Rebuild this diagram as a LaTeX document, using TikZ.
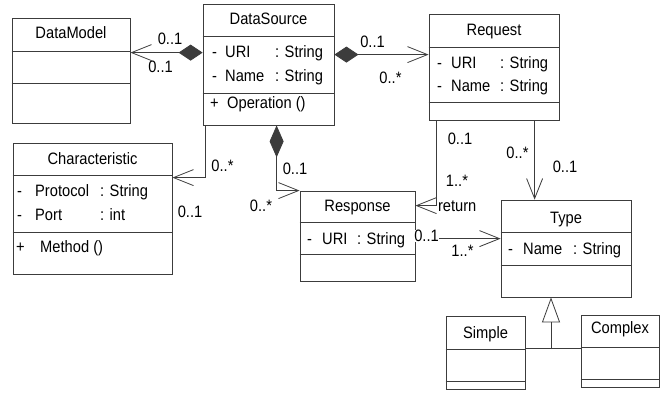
\documentclass[tikz,border=0pt]{standalone}
\usepackage{fontspec}
\setmainfont{Liberation Sans}[FakeStretch=0.89]
\usepackage{tikz}
\usetikzlibrary{arrows.meta, positioning, calc}

\definecolor{umlline}{RGB}{60, 60, 60}

\tikzset{
  every node/.style={font=\fontsize{16.5}{19}\selectfont},
  classbox/.style={draw=umlline, line width=0.8pt, inner sep=0pt},
  classname/.style={inner sep=0pt, text height=11.8pt, text depth=0pt},
  member/.style={anchor=west, inner sep=0pt, text height=11.8pt, text depth=0pt},
  mult/.style={inner sep=0pt, text height=11.8pt, text depth=0pt},
  assoc/.style={draw=umlline, line width=0.8pt},
  comp/.style={{Diamond[length=24pt,width=16pt]}-{Straight Barb[length=20pt,width=16pt]}},
  nav/.style={-{Straight Barb[length=20pt,width=16pt]}}
}

\begin{document}
\begin{tikzpicture}[x=1pt, y=-1pt]
  \fill[white] (0,0) rectangle (668,394);
  \useasboundingbox (0,0) rectangle (668,394);

  % Class boxes
  \node[classbox, minimum width=118pt, minimum height=105pt] (datamodel) at (71,70.5) {};
  \node[classbox, minimum width=131pt, minimum height=121pt] (datasource) at (268.5,64.5) {};
  \node[classbox, minimum width=130pt, minimum height=106pt] (request) at (494,67) {};
  \node[classbox, minimum width=159pt, minimum height=131pt] (characteristic) at (92.5,208.5) {};
  \node[classbox, minimum width=115pt, minimum height=90pt] (response) at (357.5,236) {};
  \node[classbox, minimum width=130pt, minimum height=97pt] (type) at (566,248.5) {};
  \node[classbox, minimum width=79pt, minimum height=73pt] (simple) at (485.5,352.5) {};
  \node[classbox, minimum width=78pt, minimum height=72pt] (complex) at (620,351) {};

  % Compartment lines
  \draw[assoc] (datamodel.west |- 0,51) -- (datamodel.east |- 0,51);
  \draw[assoc] (datamodel.west |- 0,83) -- (datamodel.east |- 0,83);
  \draw[assoc] (datasource.west |- 0,36) -- (datasource.east |- 0,36);
  \draw[assoc] (datasource.west |- 0,93) -- (datasource.east |- 0,93);
  \draw[assoc] (request.west |- 0,47) -- (request.east |- 0,47);
  \draw[assoc] (request.west |- 0,102) -- (request.east |- 0,102);
  \draw[assoc] (characteristic.west |- 0,175) -- (characteristic.east |- 0,175);
  \draw[assoc] (characteristic.west |- 0,232) -- (characteristic.east |- 0,232);
  \draw[assoc] (response.west |- 0,222) -- (response.east |- 0,222);
  \draw[assoc] (response.west |- 0,254) -- (response.east |- 0,254);
  \draw[assoc] (type.west |- 0,232) -- (type.east |- 0,232);
  \draw[assoc] (type.west |- 0,265) -- (type.east |- 0,265);
  \draw[assoc] (simple.west |- 0,349) -- (simple.east |- 0,349);
  \draw[assoc] (simple.west |- 0,381) -- (simple.east |- 0,381);
  \draw[assoc] (complex.west |- 0,347) -- (complex.east |- 0,347);
  \draw[assoc] (complex.west |- 0,379) -- (complex.east |- 0,379);

  % Class names
  \node[classname] (datamodel-name) at (71,33) {DataModel};
  \node[classname] (datasource-name) at (268.5,19) {DataSource};
  \node[classname] (request-name) at (494,29.5) {Request};
  \node[classname] (characteristic-name) at (92.5,159) {Characteristic};
  \node[classname] (response-name) at (357.5,206) {Response};
  \node[classname] (type-name) at (566,217.5) {Type};
  \node[classname] (simple-name) at (485.5,332.5) {Simple};
  \node[classname] (complex-name) at (620,328) {Complex};

  % Attributes and operations
  \node[member] (datasource-uri) at (212,52) {\makebox[13pt][l]{-}\makebox[50pt][l]{URI}: String};
  \node[member] (datasource-nm) at (212,76) {\makebox[13pt][l]{-}\makebox[50pt][l]{Name}: String};
  \node[member] (datasource-op) at (210,103) {\makebox[17pt][l]{+}Operation ()};
  \node[member] (request-uri) at (437,62.5) {\makebox[14pt][l]{-}\makebox[49pt][l]{URI}: String};
  \node[member] (request-nm) at (437,86) {\makebox[14pt][l]{-}\makebox[49pt][l]{Name}: String};
  \node[member] (characteristic-proto) at (17,191) {\makebox[18pt][l]{-}\makebox[65pt][l]{Protocol}: String};
  \node[member] (characteristic-port) at (17,214.5) {\makebox[18pt][l]{-}\makebox[65pt][l]{Port}: int};
  \node[member] (characteristic-op) at (16,247) {\makebox[24pt][l]{+}Method ()};
  \node[member] (response-uri) at (307,239) {\makebox[15pt][l]{-}\makebox[35pt][l]{URI}: String};
  \node[member] (type-nm) at (508,248.5) {\makebox[15pt][l]{-}\makebox[50pt][l]{Name}: String};

  % Associations
  \draw[assoc, comp] ([yshift=-49pt]datasource.north west) -- ([yshift=-35pt]datamodel.north east);
  \draw[assoc, comp] ([yshift=-51pt]datasource.north east) -- ([yshift=-41pt]request.north west);
  \draw[assoc, nav] ([xshift=3pt]datasource.south west) |- ([yshift=-35pt]characteristic.north east);
  \draw[assoc, {Diamond[length=32pt,width=14pt]}-{Straight Barb[length=20pt,width=16pt]}]
    ([xshift=74pt]datasource.south west) |- (response.north west);
  \draw[assoc, nav] ([xshift=8pt]request.south west) |- ([yshift=-15pt]response.north east)
    node[pos=0.5, anchor=west, fill=white, inner sep=1pt, text height=11.8pt, text depth=0pt] (return-label) {return};
  \draw[assoc, nav] ([xshift=106pt]request.south west) -- ([xshift=106pt]request.south west |- type.north);
  \draw[assoc, nav] ([yshift=-48pt]response.north east) -- ([yshift=-39pt]type.north west);

  % Generalization
  \coordinate (genjoin) at (551,349);
  \draw[assoc] ([yshift=-33pt]simple.north east) -- ([yshift=-34pt]complex.north west);
  \draw[assoc, -{Triangle[open,length=25pt,width=18pt]}] (genjoin) -- (genjoin |- type.south);

  % Multiplicities
  \node[mult] (m1) at (170,39) {0..1};
  \node[mult] (m2) at (160.5,66.5) {0..1};
  \node[mult] (m3) at (372.5,42) {0..1};
  \node[mult] (m4) at (390.5,78) {0..*};
  \node[mult] (m5) at (222.5,166) {0..*};
  \node[mult] (m6) at (190,212) {0..1};
  \node[mult] (m7) at (295,169) {0..1};
  \node[mult] (m8) at (261,206) {0..*};
  \node[mult] (m9) at (460,139) {0..1};
  \node[mult] (m10) at (457,181) {1..*};
  \node[mult] (m11) at (517.5,153) {0..*};
  \node[mult] (m12) at (565,166.5) {0..1};
  \node[mult, fill=white] (m13) at (426.5,236) {0..1};
  \node[mult] (m14) at (462.5,251) {1..*};
\end{tikzpicture}
\end{document}
